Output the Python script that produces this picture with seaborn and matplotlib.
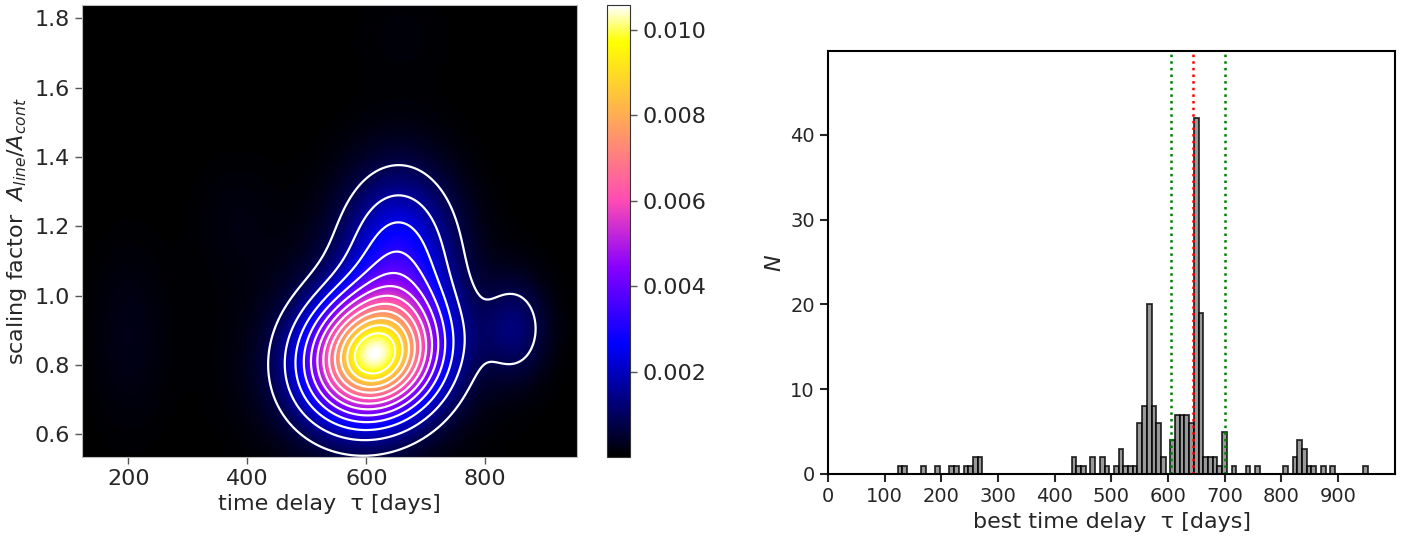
import numpy as np
import matplotlib
matplotlib.use("Agg")
import matplotlib.pyplot as plt
import seaborn as sns

# ---------------- data ----------------
# left panel: 2-D density of (time delay, scaling factor), modelled as a
# sum of Gaussian blobs whose centres / widths / tilt / heights were read off the image
tau_range = [122.0, 954.0]
amp_range = [0.534, 1.839]
comp_tau = [612, 590, 655, 850, 200, 380, 660]
comp_A = [0.824, 0.84, 1.12, 0.905, 0.88, 1.22, 1.75]
comp_sig_tau = [74, 120, 65, 38, 45, 50, 60]
comp_sig_A = [0.121, 0.22, 0.165, 0.10, 0.18, 0.12, 0.10]
comp_tilt = [60, 0, 0, 0, 0, 0, 0]          # days per unit of A
comp_height = [0.0096, 0.00055, 0.0026, 0.00115, 0.00025, 0.00015, 0.0001]
contour_levels = [0.0008, 0.0016, 0.0024, 0.0032, 0.0040, 0.0048,
                  0.0056, 0.0064, 0.0072, 0.0080, 0.0088, 0.0096]
cbar_ticks = [0.002, 0.004, 0.006, 0.008, 0.010]
left_xticks = [200, 400, 600, 800]
left_yticks = [0.6, 0.8, 1.0, 1.2, 1.4, 1.6, 1.8]

# right panel: histogram of best time delay (100 bins between 123 and 953 d)
hist_range = [123.0, 953.0]
n_bins = 100
bin_index = [0, 1, 5, 8, 11, 12, 14, 15, 16, 17,
             37, 38, 39, 41, 43, 44, 46, 47, 48, 49, 50, 51, 52, 53, 54, 55, 56,
             58, 59, 60, 61, 62, 63, 64, 65, 66, 67, 68, 69, 71, 74, 76,
             82, 84, 85, 86, 87, 88, 90, 92, 99]
bin_count = [1, 1, 1, 1, 1, 1, 1, 1, 2, 2,
             2, 1, 1, 2, 2, 1, 1, 3, 1, 1, 1, 6, 8, 20, 8, 6, 2,
             4, 7, 7, 7, 6, 42, 19, 2, 2, 2, 1, 5, 1, 1, 1,
             1, 2, 4, 3, 1, 1, 1, 1, 1]
tau_best = 645
tau_low, tau_high = 605, 701
right_xticks = [0, 100, 200, 300, 400, 500, 600, 700, 800, 900]
right_yticks = [0, 10, 20, 30, 40]

# ---------------- style ----------------
sns.set_style("ticks")
plt.rcParams["font.family"] = ["DejaVu Sans"]
plt.rcParams["mathtext.fontset"] = "dejavusans"

fig = plt.figure(figsize=(14.13, 5.36), dpi=100)
axL = fig.add_axes([0.058, 0.1474, 0.3503, 0.8433])
axC = fig.add_axes([0.4298, 0.1474, 0.0163, 0.8433])
axR = fig.add_axes([0.586, 0.1157, 0.4013, 0.7892])

# ---------------- left panel ----------------
tt = np.linspace(tau_range[0], tau_range[1], 400)
aa = np.linspace(amp_range[0], amp_range[1], 400)
T, A = np.meshgrid(tt, aa)
Z = np.zeros_like(T)
for t0, a0, st, sa, k, h in zip(comp_tau, comp_A, comp_sig_tau, comp_sig_A,
                                comp_tilt, comp_height):
    dt = T - t0 - k * (A - a0)
    Z += h * np.exp(-0.5 * (dt / st) ** 2 - 0.5 * ((A - a0) / sa) ** 2)

im = axL.imshow(Z, origin="lower", aspect="auto", cmap="gnuplot2",
                extent=[tau_range[0], tau_range[1], amp_range[0], amp_range[1]],
                vmin=Z.min(), vmax=Z.max(), interpolation="bilinear")
axL.contour(T, A, Z, levels=contour_levels, colors="white", linewidths=1.6)
axL.set_xlim(tau_range)
axL.set_ylim(amp_range)
axL.set_xticks(left_xticks)
axL.set_yticks(left_yticks)
axL.tick_params(labelsize=16, length=5, width=1, color="#555555")
axL.set_xlabel("time delay  τ [days]", fontsize=16)
axL.set_ylabel(r"scaling factor  $A_{line}/A_{cont}$", fontsize=16)
for s in axL.spines.values():
    s.set_color("#bbbbbb")
    s.set_linewidth(0.8)

cb = fig.colorbar(im, cax=axC)
cb.set_ticks(cbar_ticks)
cb.ax.tick_params(labelsize=16, length=5, width=1, color="#555555")
cb.outline.set_linewidth(0.8)
cb.outline.set_edgecolor("#333333")

# ---------------- right panel ----------------
edges = np.linspace(hist_range[0], hist_range[1], n_bins + 1)
centers = 0.5 * (edges[:-1] + edges[1:])
counts = np.zeros(n_bins)
counts[bin_index] = bin_count
sns.histplot(x=centers, weights=counts, bins=list(edges), ax=axR,
             color="gray", alpha=0.8, edgecolor=(0, 0, 0, 0.8), linewidth=1.3)
axR.axvline(tau_best, color="red", linestyle=":", linewidth=1.8)
axR.axvline(tau_low, color="green", linestyle=":", linewidth=1.8)
axR.axvline(tau_high, color="green", linestyle=":", linewidth=1.8)
axR.set_xlim(0, 1001)
axR.set_ylim(0, 49.9)
axR.set_xticks(right_xticks)
axR.set_yticks(right_yticks)
axR.tick_params(labelsize=14, length=6, width=1.5)
axR.set_xlabel("best time delay  τ [days]", fontsize=16)
axR.set_ylabel(r"$N$", fontsize=16)
for s in axR.spines.values():
    s.set_color("black")
    s.set_linewidth(1.5)

fig.savefig("out.png", dpi=100)
